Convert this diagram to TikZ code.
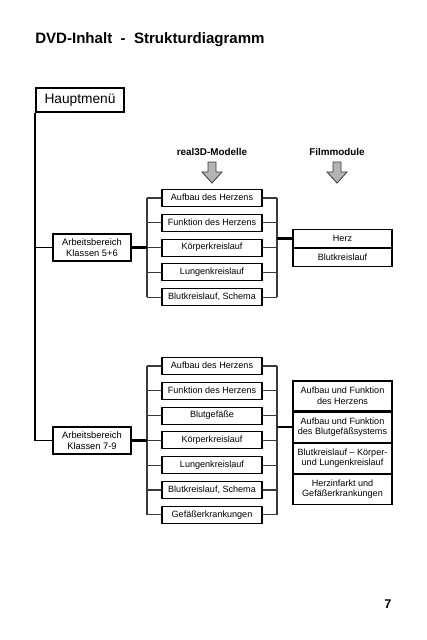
\documentclass[tikz,border=0pt]{standalone}
\usepackage{fontspec}
\setmainfont{Liberation Sans}
\usetikzlibrary{positioning}
\definecolor{arrow_gray}{HTML}{B4B4B4}
\definecolor{line_gray}{HTML}{3A3A3A}

\tikzset{
  boxtext/.style={font=\fontsize{6.8}{7.9}\selectfont, align=center, inner sep=0pt},
  topic/.style={boxtext, draw, line width=0.8pt, minimum width=75pt, minimum height=12.75pt, text height=5pt, text depth=1.5pt},
  area/.style={boxtext, draw, line width=0.8pt, minimum width=58.5pt, minimum height=20.25pt, font=\fontsize{7}{8.3}\selectfont},
  film/.style={boxtext, draw, line width=0.8pt, minimum width=74.25pt},
  link/.style={line_gray, line width=1pt},
  feed/.style={black, line width=1.6pt},
  trunk/.style={black, line width=1.1pt},
  heading/.style={font=\fontsize{7.4}{8}\selectfont\bfseries, inner sep=0pt}
}

\begin{document}
\begin{tikzpicture}[x=0.75pt, y=-0.75pt]
  \useasboundingbox (0,0) rectangle (427,640);

  % title and main menu
  \node[anchor=base west, inner sep=0pt, font=\fontsize{11.3}{12}\selectfont\bfseries] (title) at (35,43) {DVD-Inhalt\ \ -\ \ Strukturdiagramm};
  \node[draw, line width=1.5pt, minimum width=66pt, minimum height=18pt, inner sep=0pt, font=\fontsize{10.3}{11}\selectfont] (hm) at (80,100) {Hauptmenü};

  % column headings with gray arrows
  \node[heading] (h3d) at (212,152) {real3D-Modelle};
  \node[heading] (hfm) at (337,152) {Filmmodule};
  \foreach \x in {212,337}
    \draw[line_gray, fill=arrow_gray, line width=0.6pt]
      (\x-4,162) -- (\x+4,162) -- (\x+4,172) -- (\x+10,172) -- (\x,183) -- (\x-10,172) -- (\x-4,172) -- cycle;

  % Klassen 5+6
  \node[area] (ab1) at (92,247.5) {Arbeitsbereich\\Klassen 5+6};
  \foreach \t [count=\i] in {Aufbau des Herzens, Funktion des Herzens, Körperkreislauf, Lungenkreislauf, {Blutkreislauf, Schema}}
    \node[topic] (a\i) at (212,{198+24.8*(\i-1)}) {\t};
  \node[film, minimum height=13.5pt] (f1) at (342.5,238.5) {Herz};
  \node[film, minimum height=13.5pt, below=0pt of f1] (f2) {Blutkreislauf};

  % Klassen 7-9
  \node[area] (ab2) at (92,440.5) {Arbeitsbereich\\Klassen 7-9};
  \foreach \t [count=\i] in {Aufbau des Herzens, Funktion des Herzens, Blutgefäße, Körperkreislauf, Lungenkreislauf, {Blutkreislauf, Schema}, Gefäßerkrankungen}
    \node[topic] (b\i) at (212,{366+24.8*(\i-1)}) {\t};
  \node[film, minimum height=22.5pt] (g1) at (342.5,396) {Aufbau und Funktion\\des Herzens};
  \node[film, minimum height=22.5pt, below=0pt of g1] (g2) {Aufbau und Funktion\\des Blutgefäßsystems};
  \node[film, minimum height=22.5pt, below=0pt of g2] (g3) {Blutkreislauf -- Körper-\\und Lungenkreislauf};
  \node[film, minimum height=22.5pt, below=0pt of g3] (g4) {Herzinfarkt und\\Gefäßerkrankungen};

  % trunk from main menu
  \draw[trunk] (hm.south west) |- (ab2.west);
  \draw[trunk] (hm.south west |- ab1.west) -- (ab1.west);

  % brackets
  \coordinate (al) at (147,0);
  \coordinate (ar) at (277,0);
  \draw[link] (a1.west -| al) -- (a5.west -| al);
  \draw[link] (a1.east -| ar) -- (a5.east -| ar);
  \foreach \i in {1,...,5} {
    \draw[link] (a\i.west) -- (a\i.west -| al);
    \draw[link] (a\i.east) -- (a\i.east -| ar);
  }
  \draw[link] (b1.west -| al) -- (b7.west -| al);
  \draw[link] (b1.east -| ar) -- (b7.east -| ar);
  \foreach \i in {1,...,7} {
    \draw[link] (b\i.west) -- (b\i.west -| al);
    \draw[link] (b\i.east) -- (b\i.east -| ar);
  }
  \draw[feed] (ab1.east) -- (ab1.east -| al);
  \draw[feed] (ab2.east) -- (ab2.east -| al);
  \draw[feed] (f1.west -| ar) -- (f1.west);
  \draw[feed] (g2.west -| ar) -- (g2.west);

  % page number
  \node[font=\fontsize{9.5}{10}\selectfont\bfseries, inner sep=0pt] (page) at (388,604) {7};
\end{tikzpicture}
\end{document}
